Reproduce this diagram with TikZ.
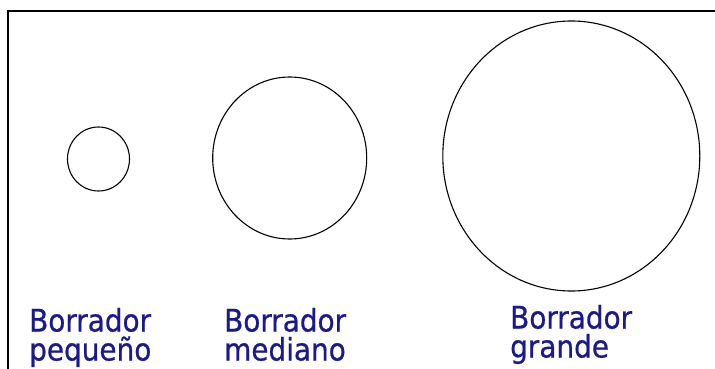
\documentclass[tikz,border=0pt]{standalone}
\usepackage{fontspec}
\setmainfont{DejaVu Sans Condensed}[BoldFont=DejaVu Sans Condensed, BoldFeatures={FakeBold=0.7}]
\usetikzlibrary{shapes.geometric, positioning}
\definecolor{labelblue}{RGB}{26,26,140}

\begin{document}
\begin{tikzpicture}[x=1pt, y=-1pt,
          eraser/.style={ellipse, draw=black, line width=1.1pt, inner sep=0pt},
          caption/.style={text=labelblue, align=left, anchor=base west, inner sep=0pt, font=\fontsize{31}{29}\selectfont\bfseries}]
        \useasboundingbox (0,0) rectangle (715,369);
        \draw [line width=1.5pt] (8,369) -- (8,11) -- (715,11);

        \node [eraser, minimum width=62pt, minimum height=64pt] (small) at (98.5,159) {};
        \node [eraser, minimum width=154pt, minimum height=162pt] (medium) at (289.7,158) {};
        \node [eraser, minimum width=257pt, minimum height=270pt] (large) at (571.3,156) {};

        % the base anchor sits on the second line
        \node [caption] (smalltext) at (29,360.5) {Borrador\\pequeño};
        \node [caption] (mediumtext) at (224,360.5) {Borrador\\mediano};
        \node [caption] (largetext) at (510,357.5) {Borrador\\grande};
      \end{tikzpicture}
\end{document}
